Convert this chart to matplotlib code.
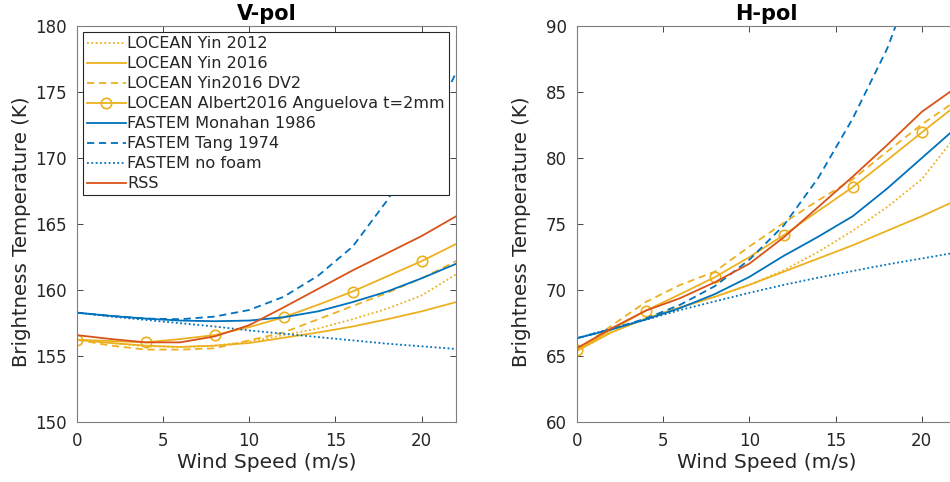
import matplotlib
matplotlib.use("Agg")
import matplotlib.pyplot as plt
import numpy as np

plt.rcParams['font.family'] = ['DejaVu Sans']

# ---------------- data ----------------
wind = [0, 2, 4, 6, 8, 10, 12, 14, 16, 18, 20, 22]

labels = ["LOCEAN Yin 2012", "LOCEAN Yin 2016", "LOCEAN Yin2016 DV2",
          "LOCEAN Albert2016 Anguelova t=2mm", "FASTEM Monahan 1986",
          "FASTEM Tang 1974", "FASTEM no foam", "RSS"]

# V-pol
v_yin2012 = [156.25, 156.0, 155.75, 155.7, 155.8, 156.1, 156.6, 157.1, 157.8, 158.6, 159.6, 161.2]
v_yin2016 = [156.25, 156.0, 155.8, 155.7, 155.8, 156.0, 156.4, 156.8, 157.25, 157.8, 158.4, 159.1]
v_dv2 = [156.25, 155.8, 155.5, 155.5, 155.6, 156.2, 156.8, 157.8, 158.8, 159.8, 160.9, 162.2]
v_albert = [156.25, 156.15, 156.05, 156.3, 156.6, 157.2, 157.95, 158.9, 159.9, 161.05, 162.2, 163.5]
v_monahan = [158.3, 158.05, 157.85, 157.7, 157.65, 157.7, 157.95, 158.4, 159.1, 159.9, 160.9, 162.0]
v_tang = [158.3, 158.05, 157.85, 157.8, 158.0, 158.5, 159.5, 161.1, 163.3, 166.8, 171.0, 176.5]
v_nofoam = [158.3, 158.0, 157.75, 157.5, 157.25, 156.95, 156.7, 156.45, 156.2, 155.95, 155.75, 155.55]
v_rss = [156.6, 156.3, 156.05, 156.05, 156.5, 157.35, 158.7, 160.1, 161.5, 162.8, 164.1, 165.6]

# H-pol
h_yin2012 = [65.4, 66.8, 67.85, 68.7, 69.5, 70.4, 71.5, 72.9, 74.5, 76.3, 78.4, 81.7]
h_yin2016 = [65.4, 66.8, 67.85, 68.7, 69.5, 70.4, 71.4, 72.4, 73.4, 74.5, 75.6, 76.8]
h_dv2 = [65.4, 67.3, 69.1, 70.4, 71.4, 73.3, 75.1, 76.8, 78.4, 80.5, 82.55, 84.35]
h_albert = [65.45, 67.0, 68.45, 69.7, 70.98, 72.5, 74.17, 76.0, 77.8, 79.85, 81.94, 84.0]
h_monahan = [66.36, 67.02, 67.78, 68.65, 69.7, 71.0, 72.6, 74.05, 75.6, 77.7, 80.0, 82.3]
h_tang = [66.36, 67.05, 67.85, 68.9, 70.3, 72.3, 74.9, 78.5, 83.0, 88.3, 95.3, 103.0]
h_nofoam = [66.36, 67.1, 67.75, 68.5, 69.15, 69.8, 70.4, 70.95, 71.45, 71.95, 72.4, 72.85]
h_rss = [65.6, 67.1, 68.45, 69.4, 70.6, 72.0, 74.0, 76.3, 78.6, 81.0, 83.5, 85.35]

x_ticks = [0, 5, 10, 15, 20]
v_ticks = [150, 155, 160, 165, 170, 175, 180]
h_ticks = [60, 65, 70, 75, 80, 85, 90]

# ---------------- style ----------------
BLUE = '#0072BD'
ORANGE = '#D95319'
YELLOW = '#EDB120'
TXT = '#262626'
LW = 1.3
DOT = (0, (1.0, 1.4))
DASH = (0, (4.0, 2.6))

styles = [
    dict(color=YELLOW, linestyle=DOT),
    dict(color=YELLOW, linestyle='-'),
    dict(color=YELLOW, linestyle=DASH),
    dict(color=YELLOW, linestyle='-', marker='o', markersize=7.5,
         markerfacecolor='none', markeredgewidth=1.2, markevery=2),
    dict(color=BLUE, linestyle='-'),
    dict(color=BLUE, linestyle=DASH),
    dict(color=BLUE, linestyle=DOT),
    dict(color=ORANGE, linestyle='-'),
]

fig = plt.figure(figsize=(9.5, 4.82), dpi=100)
ax1 = fig.add_axes([0.0807, 0.1239, 0.3995, 0.8222])
ax2 = fig.add_axes([0.6071, 0.1239, 0.3995, 0.8222])

v_series = [v_yin2012, v_yin2016, v_dv2, v_albert, v_monahan, v_tang, v_nofoam, v_rss]
h_series = [h_yin2012, h_yin2016, h_dv2, h_albert, h_monahan, h_tang, h_nofoam, h_rss]


def style_axes(ax, ylim, yticks, title):
    ax.set_xlim(0, 22)
    ax.set_ylim(*ylim)
    ax.set_xticks(x_ticks)
    ax.set_yticks(yticks)
    ax.tick_params(direction='in', length=4, width=0.6, colors=TXT,
                   labelsize=12, top=True, right=True, pad=7)
    for s in ax.spines.values():
        s.set_color('#7f7f7f')
        s.set_linewidth(0.8)
    ax.set_xlabel('Wind Speed (m/s)', fontsize=14.5, color=TXT, labelpad=2)
    ax.set_ylabel('Brightness Temperature (K)', fontsize=14.2, color=TXT)
    ax.yaxis.set_label_coords(-0.12, 0.48)
    ax.set_title(title, fontsize=15, fontweight='bold', color='black', pad=4)


for series, st, lab in zip(v_series, styles, labels):
    ax1.plot(wind, series, linewidth=LW, label=lab, clip_on=True, **st)
for series, st, lab in zip(h_series, styles, labels):
    ax2.plot(wind, series, linewidth=LW, label=lab, clip_on=True, **st)

style_axes(ax1, (150, 180), v_ticks, 'V-pol')
style_axes(ax2, (60, 90), h_ticks, 'H-pol')

leg = ax1.legend(loc='upper left', fontsize=11.6, frameon=True, fancybox=False,
                 edgecolor=TXT, framealpha=1, borderaxespad=0.4, borderpad=0.25,
                 labelspacing=0.31, handlelength=2.4, handletextpad=0.1)
leg.get_frame().set_linewidth(0.8)
for t in leg.get_texts():
    t.set_color(TXT)

fig.savefig('out.png', dpi=100)
